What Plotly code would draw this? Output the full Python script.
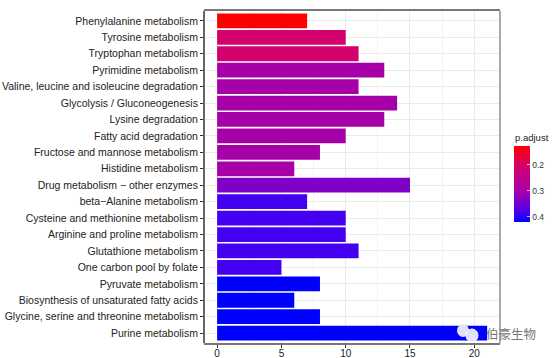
import plotly.graph_objects as go

categories = ["Phenylalanine metabolism","Tyrosine metabolism","Tryptophan metabolism","Pyrimidine metabolism",
"Valine, leucine and isoleucine degradation","Glycolysis / Gluconeogenesis","Lysine degradation","Fatty acid degradation",
"Fructose and mannose metabolism","Histidine metabolism","Drug metabolism \u2212 other enzymes","beta\u2212Alanine metabolism",
"Cysteine and methionine metabolism","Arginine and proline metabolism","Glutathione metabolism","One carbon pool by folate",
"Pyruvate metabolism","Biosynthesis of unsaturated fatty acids","Glycine, serine and threonine metabolism","Purine metabolism"]
counts = [7,10,11,13,11,14,13,10,8,6,15,7,10,10,11,5,8,6,8,21]
padjust = [0.127,0.205,0.205,0.30,0.30,0.30,0.30,0.30,0.30,0.30,0.335,0.385,0.385,0.385,0.385,0.385,0.419,0.419,0.419,0.419]
tick_vals = [0,5,10,15,20]
cbar_ticks = [0.2,0.3,0.4]

# the colour bar runs downwards (0.2 above 0.4), so the colour values are negated
color_vals = [-p for p in padjust]
scale = [[0,"#0000ff"],[0.115,"#4400f0"],[0.41,"#a800a8"],[0.73,"#d4006f"],[1,"#ff0000"]]

L, R, T, B = 204, 500, 11, 343
px = lambda x: (x - L) / (R - L)
py = lambda y: 1 - (y - T) / (B - T)

fig = go.Figure(go.Bar(
    x=counts, y=categories, orientation="h", width=0.9,
    marker=dict(color=color_vals, colorscale=scale, cmin=min(color_vals), cmax=max(color_vals), line_width=0,
        colorbar=dict(tickvals=[-t for t in cbar_ticks], ticktext=[str(t) for t in cbar_ticks],
            tickfont=dict(size=8.5, color="#333"),
            len=76, lenmode="pixels", thickness=16, thicknessmode="pixels",
            xref="container", yref="container", x=514/554, xanchor="left",
            y=1-239/358, yanchor="bottom", outlinewidth=0, ticks="inside", ticklen=3,
            tickcolor="rgba(255,255,255,0.7)", tickwidth=1, ypad=0, xpad=0)),
))
shapes = [
    dict(type="line", xref="paper", yref="paper", x0=1, x1=1, y0=0, y1=1, line=dict(color="#aaaaaa", width=2)),
    dict(type="line", xref="paper", yref="paper", x0=0, x1=0, y0=0, y1=1, line=dict(color="#666666", width=2)),
    dict(type="circle", xref="paper", yref="paper", x0=px(457), x1=px(469), y0=py(337), y1=py(324),
         fillcolor="#e2e2ff", line_width=0),
    dict(type="circle", xref="paper", yref="paper", x0=px(466), x1=px(478), y0=py(342), y1=py(329),
         fillcolor="#e2e2ff", line=dict(color="#ffffff", width=1)),
]
fig.update_layout(
    width=554, height=358, paper_bgcolor="white", plot_bgcolor="white", showlegend=False,
    margin=dict(l=L, r=554-R, t=T, b=358-B, autoexpand=False),
    font=dict(family="Liberation Sans, Arial, sans-serif"),
    shapes=shapes,
    xaxis=dict(range=[-1.02,22.0], tickvals=tick_vals, ticks="outside", ticklen=3, tickcolor="#333",
        ticklabelstandoff=-3,
        tickfont=dict(size=10, color="#222"), showgrid=True, gridcolor="#ebebeb", gridwidth=1,
        minor=dict(tickvals=[2.5,7.5,12.5,17.5], showgrid=True, gridcolor="#f2f2f2", gridwidth=1),
        showline=True, linecolor="#777", linewidth=1.5, mirror=True, zeroline=False),
    yaxis=dict(range=[19.6,-0.6], type="category", categoryorder="array", categoryarray=categories,
        dtick=1, ticks="outside", ticklen=3, tickcolor="#333", tickfont=dict(size=10.5, color="#222"),
        showgrid=True, gridcolor="#ebebeb", gridwidth=1, showline=False, zeroline=False),
)
fig.add_annotation(text="p.adjust", xref="paper", yref="paper", x=px(514), y=py(137), xanchor="left",
    yanchor="middle", showarrow=False, xshift=-1, font=dict(size=9.5, color="#222"))
fig.add_annotation(text="伯豪生物", xref="paper", yref="paper", x=px(538), y=py(333), xanchor="right",
    yanchor="middle", showarrow=False, font=dict(family="Noto Sans CJK SC", size=12.5, color="#777"))
fig.write_html("out.html", config=dict(displayModeBar=False), post_script="document.body.style.margin='0';")
